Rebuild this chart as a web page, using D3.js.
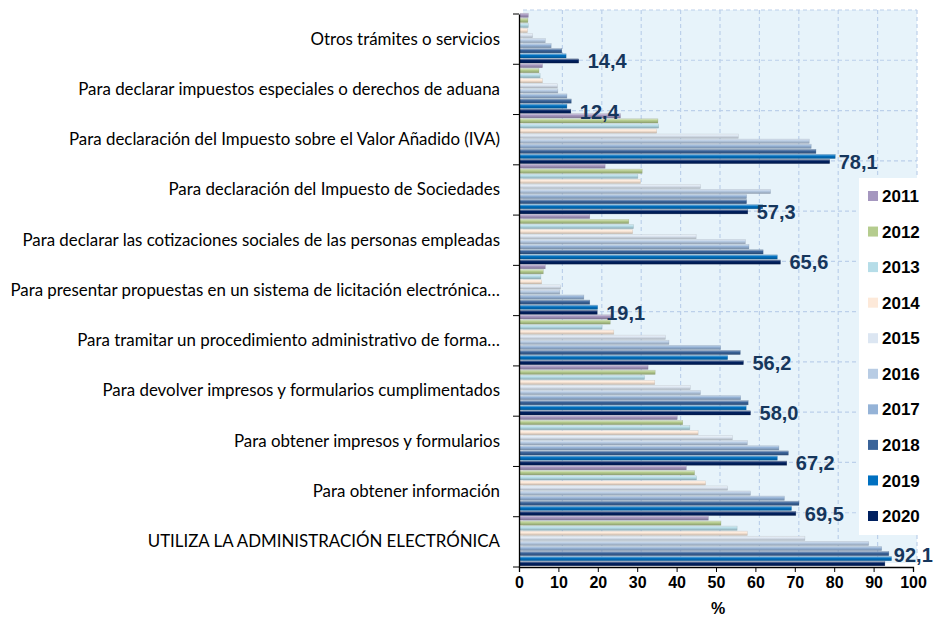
<!DOCTYPE html>
<html>
<head>
<meta charset="utf-8">
<script src="https://cdn.jsdelivr.net/npm/d3@7"></script>
<style>
  body { margin: 0; background: #fff; }
  svg { display: block; }
</style>
</head>
<body>
<svg id="chart" width="936" height="618"></svg>
<script>
// categories, top to bottom
const categories = [
  'Otros trámites o servicios',
  'Para declarar impuestos especiales o derechos de aduana',
  'Para declaración del Impuesto sobre el Valor Añadido (IVA)',
  'Para declaración del Impuesto de Sociedades',
  'Para declarar las cotizaciones sociales de las personas empleadas',
  'Para presentar propuestas en un sistema de licitación electrónica…',
  'Para tramitar un procedimiento administrativo de forma…',
  'Para devolver impresos y formularios cumplimentados',
  'Para obtener impresos y formularios',
  'Para obtener información',
  'UTILIZA LA ADMINISTRACIÓN ELECTRÓNICA'
];

const years = ['2011', '2012', '2013', '2014', '2015', '2016', '2017', '2018', '2019', '2020'];

// values per year, same order as categories
const v2011 = [1.6, 5.2, 25.0, 21.1, 17.2, 5.9, 23.0, 32.0, 39.4, 41.7, 47.3];
const v2012 = [1.5, 4.3, 34.5, 30.5, 27.1, 5.4, 22.4, 33.8, 40.8, 43.8, 50.5];
const v2013 = [1.6, 4.6, 34.7, 29.4, 28.3, 4.8, 20.3, 31.1, 42.6, 44.3, 54.6];
const v2014 = [1.4, 5.2, 34.2, 30.1, 28.1, 5.0, 23.3, 33.7, 44.7, 46.6, 57.2];
const v2015 = [2.7, 9.0, 54.9, 45.3, 44.2, 9.8, 36.4, 42.7, 53.4, 52.2, 71.8];
const v2016 = [5.9, 9.1, 72.9, 63.1, 56.7, 9.6, 37.3, 45.3, 57.2, 58.0, 88.0];
const v2017 = [7.4, 11.4, 73.4, 57.0, 57.6, 15.7, 50.4, 55.5, 65.2, 66.6, 91.3];
const v2018 = [10.1, 12.5, 74.6, 57.0, 61.2, 17.2, 55.4, 57.4, 67.6, 70.3, 93.1];
const v2019 = [11.2, 11.4, 79.5, 61.1, 64.8, 19.2, 52.2, 56.9, 64.8, 68.4, 93.8];
const v2020 = [14.4, 12.4, 78.1, 57.3, 65.6, 19.1, 56.2, 58.0, 67.2, 69.5, 92.1];

const seriesValues = [v2011, v2012, v2013, v2014, v2015, v2016, v2017, v2018, v2019, v2020];
const colors = ['#a597bf', '#b5cc8e', '#b6dde8', '#fde9d9', '#dce6f2', '#b8cce4', '#95b3d7', '#3a6399', '#0070c0', '#002060'];
const xTicks = [0, 10, 20, 30, 40, 50, 60, 70, 80, 90, 100];

const svg = d3.select('#chart');
const depth = { x: 4, y: -4 }; // 3D wall offset

const x = d3.scaleLinear().domain([0, 100]).range([519, 913]);
const y = d3.scaleBand().domain(categories).range([14, 567]).padding(0);
const yi = d3.scaleBand().domain(years).range([-1, y.bandwidth() - 1]).paddingInner(0.17).paddingOuter(0.04);

// gradients for the bevelled bars
const defs = svg.append('defs');
colors.forEach((c, i) => {
  const g = defs.append('linearGradient')
    .attr('id', `grad${i}`)
    .attr('x1', 0).attr('y1', 0).attr('x2', 0).attr('y2', 1);
  g.append('stop').attr('offset', '0%').attr('stop-color', d3.interpolateRgb(c, '#fff')(0.55));
  g.append('stop').attr('offset', '40%').attr('stop-color', c);
  g.append('stop').attr('offset', '100%').attr('stop-color', d3.color(c).darker(0.7));
});

// back wall
const wall = svg.append('g').attr('transform', `translate(${depth.x},${depth.y})`);
wall.append('rect')
  .attr('x', x(0)).attr('y', y.range()[0])
  .attr('width', x(100) - x(0)).attr('height', y.range()[1] - y.range()[0])
  .attr('fill', '#e7f3fa');

wall.selectAll('.vgrid')
  .data(xTicks.slice(1))
  .enter()
  .append('line')
  .attr('class', 'vgrid')
  .attr('x1', d => x(d)).attr('x2', d => x(d))
  .attr('y1', y.range()[0]).attr('y2', y.range()[1])
  .attr('stroke', '#bcd0ea').attr('stroke-width', 1.2).attr('stroke-dasharray', '4,3');

wall.selectAll('.hgrid')
  .data(categories)
  .enter()
  .append('line')
  .attr('class', 'hgrid')
  .attr('x1', x(0)).attr('x2', x(100))
  .attr('y1', d => y(d)).attr('y2', d => y(d))
  .attr('stroke', '#bcd0ea').attr('stroke-width', 1.2).attr('stroke-dasharray', '4,3');

// bars
const groups = svg.selectAll('.grp')
  .data(categories)
  .enter()
  .append('g')
  .attr('class', 'grp')
  .attr('transform', d => `translate(0,${y(d)})`);

groups.selectAll('rect')
  .data((d, ci) => years.map((yr, si) => ({ yr, si, v: seriesValues[si][ci] })))
  .enter()
  .append('rect')
  .attr('x', x(0) + 1)
  .attr('y', d => yi(d.yr))
  .attr('width', d => x(d.v) - x(0) + 2)
  .attr('height', yi.bandwidth())
  .attr('fill', d => `url(#grad${d.si})`)
  .attr('stroke', d => d3.color(colors[d.si]).darker(1))
  .attr('stroke-opacity', 0.45)
  .attr('stroke-width', 0.5);

// value labels (2020)
svg.selectAll('.vlabel')
  .data(categories)
  .enter()
  .append('text')
  .attr('class', 'vlabel')
  .attr('x', (d, i) => x(v2020[i]) + 12)
  .attr('y', d => Math.min(y(d) + y.bandwidth() - 3, y.range()[1] - 12))
  .attr('dy', '0.35em')
  .attr('font-family', 'Liberation Sans, Arial, sans-serif')
  .attr('font-weight', 'bold')
  .attr('font-size', 20)
  .attr('fill', '#16365c')
  .text((d, i) => v2020[i].toFixed(1).replace('.', ','));

// axes
const xAxis = d3.axisBottom(x).tickValues(xTicks).tickSize(5).tickPadding(5);
const xg = svg.append('g').attr('transform', `translate(0,${y.range()[1]})`).call(xAxis);
xg.select('.domain').attr('stroke', '#000').attr('stroke-width', 1.3);
xg.selectAll('.tick line').attr('stroke', '#000');
xg.selectAll('text')
  .attr('font-family', 'Liberation Sans, Arial, sans-serif')
  .attr('font-weight', 'bold')
  .attr('font-size', 16)
  .attr('fill', '#000');

const yAxis = d3.axisLeft(y).tickSize(0).tickPadding(19);
const yg = svg.append('g').attr('transform', `translate(${x(0)},0)`).call(yAxis);
yg.select('.domain').attr('stroke', '#000').attr('stroke-width', 1.3);
const catText = yg.selectAll('text')
  .attr('font-family', 'Lato, "Open Sans", sans-serif')
  .attr('font-size', 15)
  .attr('fill', '#000');

// fit the longest category label to the width it has in the reference
const longest = d3.max(catText.nodes(), n => n.getComputedTextLength());
catText.attr('font-size', 15 * 490 / longest);

// tick marks at category boundaries
yg.selectAll('.bound')
  .data(categories.concat(['end']))
  .enter()
  .append('line')
  .attr('x1', -6).attr('x2', 0)
  .attr('y1', (d, i) => i < categories.length ? y(d) : y.range()[1])
  .attr('y2', (d, i) => i < categories.length ? y(d) : y.range()[1])
  .attr('stroke', '#000');

svg.append('text')
  .attr('x', x(50) + 2)
  .attr('y', 608)
  .attr('text-anchor', 'middle')
  .attr('dy', '0.35em')
  .attr('font-family', 'Liberation Sans, Arial, sans-serif')
  .attr('font-weight', 'bold')
  .attr('font-size', 16)
  .text('%');

// legend
const legend = svg.append('g');
legend.append('rect')
  .attr('x', 859).attr('y', 178)
  .attr('width', 936 - 859).attr('height', 535 - 178)
  .attr('fill', '#fff');

const ly = d3.scalePoint().domain(years).range([196, 516]);
const items = legend.selectAll('.item')
  .data(years)
  .enter()
  .append('g')
  .attr('class', 'item')
  .attr('transform', d => `translate(868,${ly(d)})`);
items.append('rect')
  .attr('x', 0).attr('y', -5)
  .attr('width', 10).attr('height', 10)
  .attr('fill', (d, i) => colors[i]);
items.append('text')
  .attr('x', 14)
  .attr('dy', '0.36em')
  .attr('font-family', 'Liberation Sans, Arial, sans-serif')
  .attr('font-weight', 'bold')
  .attr('font-size', 17)
  .attr('fill', '#000')
  .text(d => d);
</script>
</body>
</html>
